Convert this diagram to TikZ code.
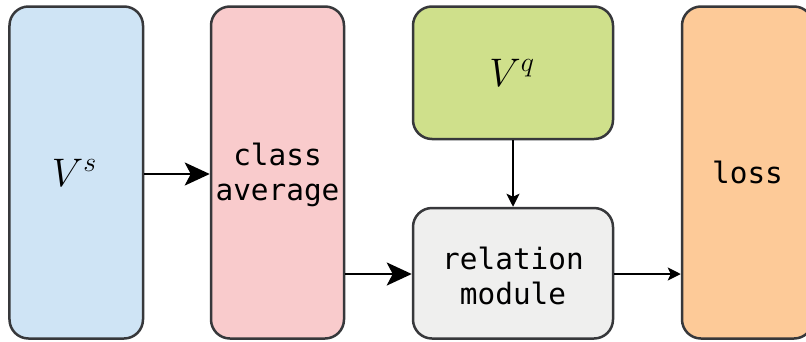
\documentclass[tikz,border=0pt]{standalone}
\usepackage{fix-cm}
\usepackage{fontspec}
\setmonofont{DejaVu Sans Mono}
\usetikzlibrary{arrows.meta}
\definecolor{cblue}{HTML}{CFE4F5}
\definecolor{cpink}{HTML}{F9CBCC}
\definecolor{cgreen}{HTML}{CFE08B}
\definecolor{cgray}{HTML}{EFEFEE}
\definecolor{corange}{HTML}{FDCA98}
\definecolor{cborder}{HTML}{37383B}
\tikzset{
  blk/.style={draw=cborder, line width=2.5bp, rounded corners=19bp, inner sep=0pt, align=center,
    font=\fontsize{29.5}{35}\selectfont\ttfamily},
  mathtxt/.style={font=\fontsize{40}{42}\selectfont},
  bigarrow/.style={line width=2.6bp, -{Stealth[length=25bp,width=23bp,inset=6bp]}},
  smallarrow/.style={line width=2bp, -{Stealth[length=13bp,width=13bp,inset=3bp]}},
}
\newcommand{\lowstrut}{\rule{0pt}{28bp}}
\begin{document}
\begin{tikzpicture}[x=1bp,y=-1bp]
\useasboundingbox (0,0) rectangle (806,341);
\node[blk, fill=cblue, minimum width=133.5bp, minimum height=332bp, mathtxt] (vs) at (76.25,172.5) {\raisebox{-2bp}{$V^s$}\kern4bp};
\node[blk, fill=cpink, minimum width=133bp, minimum height=332bp] (ca) at (277.5,172.5) {\lowstrut class\\average};
\node[blk, fill=cgreen, minimum width=200bp, minimum height=132.5bp, mathtxt] (vq) at (513,72.75) {$V^q$\kern2bp};
\node[blk, fill=cgray, minimum width=200bp, minimum height=130.5bp] (rm) at (513,273.25) {\lowstrut relation\\module};
\node[blk, fill=corange, minimum width=131bp, minimum height=332bp] (loss) at (747.5,172.5) {loss};
\draw[bigarrow] (vs.east |- 0,174) -- (ca.west |- 0,174);
\draw[bigarrow] (ca.east |- 0,274) -- (rm.west |- 0,274);
\draw[smallarrow] (vq.south) -- (rm.north);
\draw[smallarrow] (rm.east |- 0,274) -- (loss.west |- 0,274);
\end{tikzpicture}
\end{document}
